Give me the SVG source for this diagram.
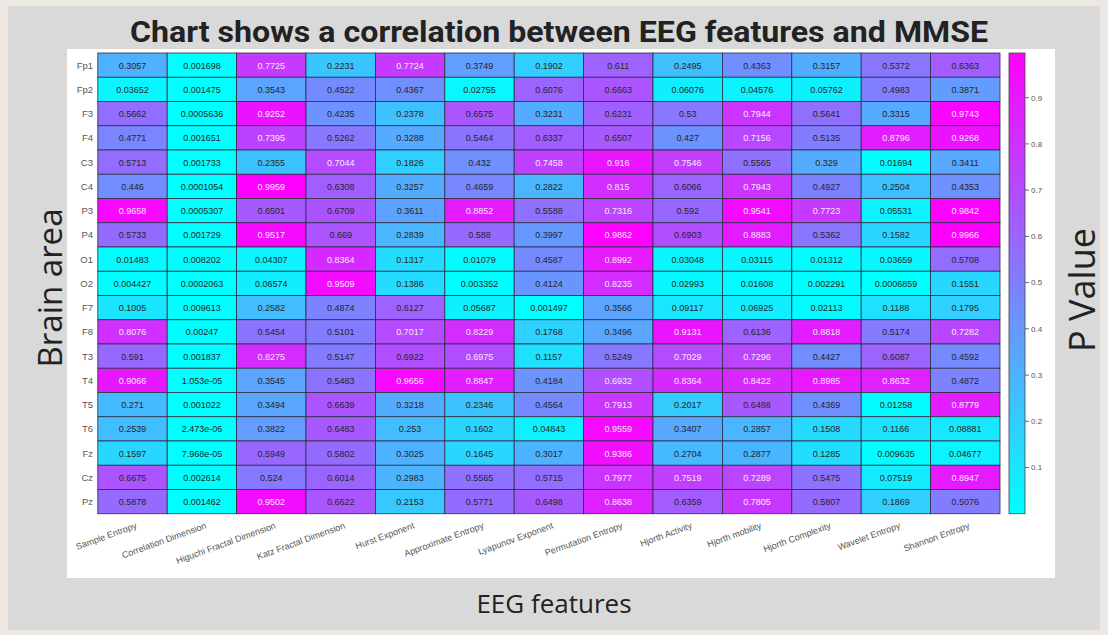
<svg xmlns="http://www.w3.org/2000/svg" width="1108" height="635" viewBox="0 0 1108 635">
<defs>
<linearGradient id="cool" x1="0" y1="1" x2="0" y2="0">
<stop offset="0" stop-color="#00ffff"/>
<stop offset="1" stop-color="#ff00ff"/>
</linearGradient>
</defs>
<style>
.cell rect{stroke:#2e2e44;stroke-width:.8}
.cell text{font-family:"Liberation Sans",Arial,sans-serif;font-size:9px;text-anchor:middle}
.d{fill:#262626}
.w{fill:#fbe6fb}
.rl{font-family:"Liberation Sans",Arial,sans-serif;font-size:9.5px;fill:#555;text-anchor:end}
.xl{font-family:"Liberation Sans",Arial,sans-serif;font-size:9px;fill:#555;text-anchor:end}
.tk{font-family:"Liberation Sans",Arial,sans-serif;font-size:8px;fill:#555}
.ax{font-family:"Open Sans","Noto Sans",sans-serif;fill:#222;text-anchor:middle}
</style>
<rect width="1108" height="635" fill="#eee8e2"/>
<rect x="8" y="6" width="1092" height="624" fill="#d9d9da"/>
<rect x="67" y="49" width="988" height="529" fill="#ffffff"/>
<text x="559" y="42" font-family="Roboto,'Liberation Sans',sans-serif" font-weight="bold" font-size="30" fill="#222" text-anchor="middle" textLength="858" lengthAdjust="spacingAndGlyphs">Chart shows a correlation between EEG features and MMSE</text>

<g id="row-labels">
<text class="rl" x="93" y="68.5">Fp1</text>
<text class="rl" x="93" y="92.75">Fp2</text>
<text class="rl" x="93" y="117">F3</text>
<text class="rl" x="93" y="141.25">F4</text>
<text class="rl" x="93" y="165.5">C3</text>
<text class="rl" x="93" y="189.75">C4</text>
<text class="rl" x="93" y="214">P3</text>
<text class="rl" x="93" y="238.25">P4</text>
<text class="rl" x="93" y="262.5">O1</text>
<text class="rl" x="93" y="286.75">O2</text>
<text class="rl" x="93" y="311">F7</text>
<text class="rl" x="93" y="335.25">F8</text>
<text class="rl" x="93" y="359.5">T3</text>
<text class="rl" x="93" y="383.75">T4</text>
<text class="rl" x="93" y="408">T5</text>
<text class="rl" x="93" y="432.25">T6</text>
<text class="rl" x="93" y="456.5">Fz</text>
<text class="rl" x="93" y="480.75">Cz</text>
<text class="rl" x="93" y="505">Pz</text>
</g>

<g id="cells" class="cell">
<g id="row-Fp1" transform="translate(0,53)">
<rect x="97.8" width="69.4" height="24.25" fill="rgb(78,177,255)"/><rect x="167.2" width="69.4" height="24.25" fill="rgb(0,255,255)"/><rect x="236.6" width="69.4" height="24.25" fill="rgb(198,57,255)"/><rect x="306" width="69.4" height="24.25" fill="rgb(57,198,255)"/><rect x="375.4" width="69.4" height="24.25" fill="rgb(198,57,255)"/><rect x="444.8" width="69.4" height="24.25" fill="rgb(96,159,255)"/><rect x="514.2" width="69.4" height="24.25" fill="rgb(49,206,255)"/><rect x="583.6" width="69.4" height="24.25" fill="rgb(156,99,255)"/><rect x="653" width="69.4" height="24.25" fill="rgb(64,191,255)"/><rect x="722.4" width="69.4" height="24.25" fill="rgb(112,143,255)"/><rect x="791.8" width="69.4" height="24.25" fill="rgb(81,174,255)"/><rect x="861.2" width="69.4" height="24.25" fill="rgb(137,118,255)"/><rect x="930.6" width="69.4" height="24.25" fill="rgb(163,92,255)"/>
<text x="132.5" y="15.5" class="d">0.3057</text><text x="201.9" y="15.5" class="d">0.001698</text><text x="271.3" y="15.5" class="w">0.7725</text><text x="340.7" y="15.5" class="d">0.2231</text><text x="410.1" y="15.5" class="w">0.7724</text><text x="479.5" y="15.5" class="d">0.3749</text><text x="548.9" y="15.5" class="d">0.1902</text><text x="618.3" y="15.5" class="d">0.611</text><text x="687.7" y="15.5" class="d">0.2495</text><text x="757.1" y="15.5" class="d">0.4363</text><text x="826.5" y="15.5" class="d">0.3157</text><text x="895.9" y="15.5" class="d">0.5372</text><text x="965.3" y="15.5" class="d">0.6363</text>
</g>
<g id="row-Fp2" transform="translate(0,77.25)">
<rect x="97.8" width="69.4" height="24.25" fill="rgb(9,246,255)"/><rect x="167.2" width="69.4" height="24.25" fill="rgb(0,255,255)"/><rect x="236.6" width="69.4" height="24.25" fill="rgb(91,164,255)"/><rect x="306" width="69.4" height="24.25" fill="rgb(116,139,255)"/><rect x="375.4" width="69.4" height="24.25" fill="rgb(112,143,255)"/><rect x="444.8" width="69.4" height="24.25" fill="rgb(7,248,255)"/><rect x="514.2" width="69.4" height="24.25" fill="rgb(155,100,255)"/><rect x="583.6" width="69.4" height="24.25" fill="rgb(170,85,255)"/><rect x="653" width="69.4" height="24.25" fill="rgb(16,239,255)"/><rect x="722.4" width="69.4" height="24.25" fill="rgb(12,243,255)"/><rect x="791.8" width="69.4" height="24.25" fill="rgb(15,240,255)"/><rect x="861.2" width="69.4" height="24.25" fill="rgb(128,127,255)"/><rect x="930.6" width="69.4" height="24.25" fill="rgb(99,156,255)"/>
<text x="132.5" y="15.5" class="d">0.03652</text><text x="201.9" y="15.5" class="d">0.001475</text><text x="271.3" y="15.5" class="d">0.3543</text><text x="340.7" y="15.5" class="d">0.4522</text><text x="410.1" y="15.5" class="d">0.4367</text><text x="479.5" y="15.5" class="d">0.02755</text><text x="548.9" y="15.5" class="d">0.6076</text><text x="618.3" y="15.5" class="d">0.6663</text><text x="687.7" y="15.5" class="d">0.06076</text><text x="757.1" y="15.5" class="d">0.04576</text><text x="826.5" y="15.5" class="d">0.05762</text><text x="895.9" y="15.5" class="d">0.4983</text><text x="965.3" y="15.5" class="d">0.3871</text>
</g>
<g id="row-F3" transform="translate(0,101.5)">
<rect x="97.8" width="69.4" height="24.25" fill="rgb(145,110,255)"/><rect x="167.2" width="69.4" height="24.25" fill="rgb(0,255,255)"/><rect x="236.6" width="69.4" height="24.25" fill="rgb(237,18,255)"/><rect x="306" width="69.4" height="24.25" fill="rgb(108,147,255)"/><rect x="375.4" width="69.4" height="24.25" fill="rgb(61,194,255)"/><rect x="444.8" width="69.4" height="24.25" fill="rgb(168,87,255)"/><rect x="514.2" width="69.4" height="24.25" fill="rgb(83,172,255)"/><rect x="583.6" width="69.4" height="24.25" fill="rgb(159,96,255)"/><rect x="653" width="69.4" height="24.25" fill="rgb(136,119,255)"/><rect x="722.4" width="69.4" height="24.25" fill="rgb(203,52,255)"/><rect x="791.8" width="69.4" height="24.25" fill="rgb(144,111,255)"/><rect x="861.2" width="69.4" height="24.25" fill="rgb(85,170,255)"/><rect x="930.6" width="69.4" height="24.25" fill="rgb(249,6,255)"/>
<text x="132.5" y="15.5" class="d">0.5662</text><text x="201.9" y="15.5" class="d">0.0005636</text><text x="271.3" y="15.5" class="w">0.9252</text><text x="340.7" y="15.5" class="d">0.4235</text><text x="410.1" y="15.5" class="d">0.2378</text><text x="479.5" y="15.5" class="d">0.6575</text><text x="548.9" y="15.5" class="d">0.3231</text><text x="618.3" y="15.5" class="d">0.6231</text><text x="687.7" y="15.5" class="d">0.53</text><text x="757.1" y="15.5" class="w">0.7944</text><text x="826.5" y="15.5" class="d">0.5641</text><text x="895.9" y="15.5" class="d">0.3315</text><text x="965.3" y="15.5" class="w">0.9743</text>
</g>
<g id="row-F4" transform="translate(0,125.75)">
<rect x="97.8" width="69.4" height="24.25" fill="rgb(122,133,255)"/><rect x="167.2" width="69.4" height="24.25" fill="rgb(0,255,255)"/><rect x="236.6" width="69.4" height="24.25" fill="rgb(189,66,255)"/><rect x="306" width="69.4" height="24.25" fill="rgb(135,120,255)"/><rect x="375.4" width="69.4" height="24.25" fill="rgb(84,171,255)"/><rect x="444.8" width="69.4" height="24.25" fill="rgb(140,115,255)"/><rect x="514.2" width="69.4" height="24.25" fill="rgb(162,93,255)"/><rect x="583.6" width="69.4" height="24.25" fill="rgb(166,89,255)"/><rect x="653" width="69.4" height="24.25" fill="rgb(109,146,255)"/><rect x="722.4" width="69.4" height="24.25" fill="rgb(183,72,255)"/><rect x="791.8" width="69.4" height="24.25" fill="rgb(131,124,255)"/><rect x="861.2" width="69.4" height="24.25" fill="rgb(225,30,255)"/><rect x="930.6" width="69.4" height="24.25" fill="rgb(237,18,255)"/>
<text x="132.5" y="15.5" class="d">0.4771</text><text x="201.9" y="15.5" class="d">0.001651</text><text x="271.3" y="15.5" class="w">0.7395</text><text x="340.7" y="15.5" class="d">0.5262</text><text x="410.1" y="15.5" class="d">0.3288</text><text x="479.5" y="15.5" class="d">0.5464</text><text x="548.9" y="15.5" class="d">0.6337</text><text x="618.3" y="15.5" class="d">0.6507</text><text x="687.7" y="15.5" class="d">0.427</text><text x="757.1" y="15.5" class="w">0.7156</text><text x="826.5" y="15.5" class="d">0.5135</text><text x="895.9" y="15.5" class="w">0.8796</text><text x="965.3" y="15.5" class="w">0.9268</text>
</g>
<g id="row-C3" transform="translate(0,150)">
<rect x="97.8" width="69.4" height="24.25" fill="rgb(146,109,255)"/><rect x="167.2" width="69.4" height="24.25" fill="rgb(0,255,255)"/><rect x="236.6" width="69.4" height="24.25" fill="rgb(60,195,255)"/><rect x="306" width="69.4" height="24.25" fill="rgb(180,75,255)"/><rect x="375.4" width="69.4" height="24.25" fill="rgb(47,208,255)"/><rect x="444.8" width="69.4" height="24.25" fill="rgb(111,144,255)"/><rect x="514.2" width="69.4" height="24.25" fill="rgb(191,64,255)"/><rect x="583.6" width="69.4" height="24.25" fill="rgb(234,21,255)"/><rect x="653" width="69.4" height="24.25" fill="rgb(193,62,255)"/><rect x="722.4" width="69.4" height="24.25" fill="rgb(142,113,255)"/><rect x="791.8" width="69.4" height="24.25" fill="rgb(84,171,255)"/><rect x="861.2" width="69.4" height="24.25" fill="rgb(4,251,255)"/><rect x="930.6" width="69.4" height="24.25" fill="rgb(87,168,255)"/>
<text x="132.5" y="15.5" class="d">0.5713</text><text x="201.9" y="15.5" class="d">0.001733</text><text x="271.3" y="15.5" class="d">0.2355</text><text x="340.7" y="15.5" class="w">0.7044</text><text x="410.1" y="15.5" class="d">0.1826</text><text x="479.5" y="15.5" class="d">0.432</text><text x="548.9" y="15.5" class="w">0.7458</text><text x="618.3" y="15.5" class="w">0.916</text><text x="687.7" y="15.5" class="w">0.7546</text><text x="757.1" y="15.5" class="d">0.5565</text><text x="826.5" y="15.5" class="d">0.329</text><text x="895.9" y="15.5" class="d">0.01694</text><text x="965.3" y="15.5" class="d">0.3411</text>
</g>
<g id="row-C4" transform="translate(0,174.25)">
<rect x="97.8" width="69.4" height="24.25" fill="rgb(114,141,255)"/><rect x="167.2" width="69.4" height="24.25" fill="rgb(0,255,255)"/><rect x="236.6" width="69.4" height="24.25" fill="rgb(255,0,255)"/><rect x="306" width="69.4" height="24.25" fill="rgb(161,94,255)"/><rect x="375.4" width="69.4" height="24.25" fill="rgb(83,172,255)"/><rect x="444.8" width="69.4" height="24.25" fill="rgb(119,136,255)"/><rect x="514.2" width="69.4" height="24.25" fill="rgb(72,183,255)"/><rect x="583.6" width="69.4" height="24.25" fill="rgb(209,46,255)"/><rect x="653" width="69.4" height="24.25" fill="rgb(155,100,255)"/><rect x="722.4" width="69.4" height="24.25" fill="rgb(203,52,255)"/><rect x="791.8" width="69.4" height="24.25" fill="rgb(126,129,255)"/><rect x="861.2" width="69.4" height="24.25" fill="rgb(64,191,255)"/><rect x="930.6" width="69.4" height="24.25" fill="rgb(111,144,255)"/>
<text x="132.5" y="15.5" class="d">0.446</text><text x="201.9" y="15.5" class="d">0.0001054</text><text x="271.3" y="15.5" class="w">0.9959</text><text x="340.7" y="15.5" class="d">0.6308</text><text x="410.1" y="15.5" class="d">0.3257</text><text x="479.5" y="15.5" class="d">0.4659</text><text x="548.9" y="15.5" class="d">0.2822</text><text x="618.3" y="15.5" class="w">0.815</text><text x="687.7" y="15.5" class="d">0.6066</text><text x="757.1" y="15.5" class="w">0.7943</text><text x="826.5" y="15.5" class="d">0.4927</text><text x="895.9" y="15.5" class="d">0.2504</text><text x="965.3" y="15.5" class="d">0.4353</text>
</g>
<g id="row-P3" transform="translate(0,198.5)">
<rect x="97.8" width="69.4" height="24.25" fill="rgb(247,8,255)"/><rect x="167.2" width="69.4" height="24.25" fill="rgb(0,255,255)"/><rect x="236.6" width="69.4" height="24.25" fill="rgb(166,89,255)"/><rect x="306" width="69.4" height="24.25" fill="rgb(172,83,255)"/><rect x="375.4" width="69.4" height="24.25" fill="rgb(92,163,255)"/><rect x="444.8" width="69.4" height="24.25" fill="rgb(227,28,255)"/><rect x="514.2" width="69.4" height="24.25" fill="rgb(143,112,255)"/><rect x="583.6" width="69.4" height="24.25" fill="rgb(187,68,255)"/><rect x="653" width="69.4" height="24.25" fill="rgb(151,104,255)"/><rect x="722.4" width="69.4" height="24.25" fill="rgb(244,11,255)"/><rect x="791.8" width="69.4" height="24.25" fill="rgb(198,57,255)"/><rect x="861.2" width="69.4" height="24.25" fill="rgb(14,241,255)"/><rect x="930.6" width="69.4" height="24.25" fill="rgb(252,3,255)"/>
<text x="132.5" y="15.5" class="w">0.9658</text><text x="201.9" y="15.5" class="d">0.0005307</text><text x="271.3" y="15.5" class="d">0.6501</text><text x="340.7" y="15.5" class="d">0.6709</text><text x="410.1" y="15.5" class="d">0.3611</text><text x="479.5" y="15.5" class="w">0.8852</text><text x="548.9" y="15.5" class="d">0.5588</text><text x="618.3" y="15.5" class="w">0.7316</text><text x="687.7" y="15.5" class="d">0.592</text><text x="757.1" y="15.5" class="w">0.9541</text><text x="826.5" y="15.5" class="w">0.7723</text><text x="895.9" y="15.5" class="d">0.05531</text><text x="965.3" y="15.5" class="w">0.9842</text>
</g>
<g id="row-P4" transform="translate(0,222.75)">
<rect x="97.8" width="69.4" height="24.25" fill="rgb(147,108,255)"/><rect x="167.2" width="69.4" height="24.25" fill="rgb(0,255,255)"/><rect x="236.6" width="69.4" height="24.25" fill="rgb(244,11,255)"/><rect x="306" width="69.4" height="24.25" fill="rgb(171,84,255)"/><rect x="375.4" width="69.4" height="24.25" fill="rgb(73,182,255)"/><rect x="444.8" width="69.4" height="24.25" fill="rgb(150,105,255)"/><rect x="514.2" width="69.4" height="24.25" fill="rgb(102,153,255)"/><rect x="583.6" width="69.4" height="24.25" fill="rgb(252,3,255)"/><rect x="653" width="69.4" height="24.25" fill="rgb(177,78,255)"/><rect x="722.4" width="69.4" height="24.25" fill="rgb(227,28,255)"/><rect x="791.8" width="69.4" height="24.25" fill="rgb(137,118,255)"/><rect x="861.2" width="69.4" height="24.25" fill="rgb(40,215,255)"/><rect x="930.6" width="69.4" height="24.25" fill="rgb(255,0,255)"/>
<text x="132.5" y="15.5" class="d">0.5733</text><text x="201.9" y="15.5" class="d">0.001729</text><text x="271.3" y="15.5" class="w">0.9517</text><text x="340.7" y="15.5" class="d">0.669</text><text x="410.1" y="15.5" class="d">0.2839</text><text x="479.5" y="15.5" class="d">0.588</text><text x="548.9" y="15.5" class="d">0.3997</text><text x="618.3" y="15.5" class="w">0.9862</text><text x="687.7" y="15.5" class="d">0.6903</text><text x="757.1" y="15.5" class="w">0.8883</text><text x="826.5" y="15.5" class="d">0.5362</text><text x="895.9" y="15.5" class="d">0.1582</text><text x="965.3" y="15.5" class="w">0.9966</text>
</g>
<g id="row-O1" transform="translate(0,247)">
<rect x="97.8" width="69.4" height="24.25" fill="rgb(4,251,255)"/><rect x="167.2" width="69.4" height="24.25" fill="rgb(2,253,255)"/><rect x="236.6" width="69.4" height="24.25" fill="rgb(11,244,255)"/><rect x="306" width="69.4" height="24.25" fill="rgb(214,41,255)"/><rect x="375.4" width="69.4" height="24.25" fill="rgb(34,221,255)"/><rect x="444.8" width="69.4" height="24.25" fill="rgb(3,252,255)"/><rect x="514.2" width="69.4" height="24.25" fill="rgb(117,138,255)"/><rect x="583.6" width="69.4" height="24.25" fill="rgb(230,25,255)"/><rect x="653" width="69.4" height="24.25" fill="rgb(8,247,255)"/><rect x="722.4" width="69.4" height="24.25" fill="rgb(8,247,255)"/><rect x="791.8" width="69.4" height="24.25" fill="rgb(3,252,255)"/><rect x="861.2" width="69.4" height="24.25" fill="rgb(9,246,255)"/><rect x="930.6" width="69.4" height="24.25" fill="rgb(146,109,255)"/>
<text x="132.5" y="15.5" class="d">0.01483</text><text x="201.9" y="15.5" class="d">0.008202</text><text x="271.3" y="15.5" class="d">0.04307</text><text x="340.7" y="15.5" class="w">0.8364</text><text x="410.1" y="15.5" class="d">0.1317</text><text x="479.5" y="15.5" class="d">0.01079</text><text x="548.9" y="15.5" class="d">0.4587</text><text x="618.3" y="15.5" class="w">0.8992</text><text x="687.7" y="15.5" class="d">0.03048</text><text x="757.1" y="15.5" class="d">0.03115</text><text x="826.5" y="15.5" class="d">0.01312</text><text x="895.9" y="15.5" class="d">0.03659</text><text x="965.3" y="15.5" class="d">0.5708</text>
</g>
<g id="row-O2" transform="translate(0,271.25)">
<rect x="97.8" width="69.4" height="24.25" fill="rgb(1,254,255)"/><rect x="167.2" width="69.4" height="24.25" fill="rgb(0,255,255)"/><rect x="236.6" width="69.4" height="24.25" fill="rgb(17,238,255)"/><rect x="306" width="69.4" height="24.25" fill="rgb(243,12,255)"/><rect x="375.4" width="69.4" height="24.25" fill="rgb(35,220,255)"/><rect x="444.8" width="69.4" height="24.25" fill="rgb(1,254,255)"/><rect x="514.2" width="69.4" height="24.25" fill="rgb(106,149,255)"/><rect x="583.6" width="69.4" height="24.25" fill="rgb(211,44,255)"/><rect x="653" width="69.4" height="24.25" fill="rgb(8,247,255)"/><rect x="722.4" width="69.4" height="24.25" fill="rgb(4,251,255)"/><rect x="791.8" width="69.4" height="24.25" fill="rgb(1,254,255)"/><rect x="861.2" width="69.4" height="24.25" fill="rgb(0,255,255)"/><rect x="930.6" width="69.4" height="24.25" fill="rgb(40,215,255)"/>
<text x="132.5" y="15.5" class="d">0.004427</text><text x="201.9" y="15.5" class="d">0.0002063</text><text x="271.3" y="15.5" class="d">0.06574</text><text x="340.7" y="15.5" class="w">0.9509</text><text x="410.1" y="15.5" class="d">0.1386</text><text x="479.5" y="15.5" class="d">0.003352</text><text x="548.9" y="15.5" class="d">0.4124</text><text x="618.3" y="15.5" class="w">0.8235</text><text x="687.7" y="15.5" class="d">0.02993</text><text x="757.1" y="15.5" class="d">0.01608</text><text x="826.5" y="15.5" class="d">0.002291</text><text x="895.9" y="15.5" class="d">0.0006859</text><text x="965.3" y="15.5" class="d">0.1551</text>
</g>
<g id="row-F7" transform="translate(0,295.5)">
<rect x="97.8" width="69.4" height="24.25" fill="rgb(26,229,255)"/><rect x="167.2" width="69.4" height="24.25" fill="rgb(2,253,255)"/><rect x="236.6" width="69.4" height="24.25" fill="rgb(66,189,255)"/><rect x="306" width="69.4" height="24.25" fill="rgb(125,130,255)"/><rect x="375.4" width="69.4" height="24.25" fill="rgb(157,98,255)"/><rect x="444.8" width="69.4" height="24.25" fill="rgb(15,240,255)"/><rect x="514.2" width="69.4" height="24.25" fill="rgb(0,255,255)"/><rect x="583.6" width="69.4" height="24.25" fill="rgb(91,164,255)"/><rect x="653" width="69.4" height="24.25" fill="rgb(23,232,255)"/><rect x="722.4" width="69.4" height="24.25" fill="rgb(18,237,255)"/><rect x="791.8" width="69.4" height="24.25" fill="rgb(5,250,255)"/><rect x="861.2" width="69.4" height="24.25" fill="rgb(30,225,255)"/><rect x="930.6" width="69.4" height="24.25" fill="rgb(46,209,255)"/>
<text x="132.5" y="15.5" class="d">0.1005</text><text x="201.9" y="15.5" class="d">0.009613</text><text x="271.3" y="15.5" class="d">0.2582</text><text x="340.7" y="15.5" class="d">0.4874</text><text x="410.1" y="15.5" class="d">0.6127</text><text x="479.5" y="15.5" class="d">0.05687</text><text x="548.9" y="15.5" class="d">0.001497</text><text x="618.3" y="15.5" class="d">0.3566</text><text x="687.7" y="15.5" class="d">0.09117</text><text x="757.1" y="15.5" class="d">0.06925</text><text x="826.5" y="15.5" class="d">0.02113</text><text x="895.9" y="15.5" class="d">0.1188</text><text x="965.3" y="15.5" class="d">0.1795</text>
</g>
<g id="row-F8" transform="translate(0,319.75)">
<rect x="97.8" width="69.4" height="24.25" fill="rgb(207,48,255)"/><rect x="167.2" width="69.4" height="24.25" fill="rgb(1,254,255)"/><rect x="236.6" width="69.4" height="24.25" fill="rgb(140,115,255)"/><rect x="306" width="69.4" height="24.25" fill="rgb(131,124,255)"/><rect x="375.4" width="69.4" height="24.25" fill="rgb(180,75,255)"/><rect x="444.8" width="69.4" height="24.25" fill="rgb(211,44,255)"/><rect x="514.2" width="69.4" height="24.25" fill="rgb(45,210,255)"/><rect x="583.6" width="69.4" height="24.25" fill="rgb(89,166,255)"/><rect x="653" width="69.4" height="24.25" fill="rgb(234,21,255)"/><rect x="722.4" width="69.4" height="24.25" fill="rgb(157,98,255)"/><rect x="791.8" width="69.4" height="24.25" fill="rgb(226,29,255)"/><rect x="861.2" width="69.4" height="24.25" fill="rgb(132,123,255)"/><rect x="930.6" width="69.4" height="24.25" fill="rgb(186,69,255)"/>
<text x="132.5" y="15.5" class="w">0.8076</text><text x="201.9" y="15.5" class="d">0.00247</text><text x="271.3" y="15.5" class="d">0.5454</text><text x="340.7" y="15.5" class="d">0.5101</text><text x="410.1" y="15.5" class="w">0.7017</text><text x="479.5" y="15.5" class="w">0.8229</text><text x="548.9" y="15.5" class="d">0.1768</text><text x="618.3" y="15.5" class="d">0.3496</text><text x="687.7" y="15.5" class="w">0.9131</text><text x="757.1" y="15.5" class="d">0.6136</text><text x="826.5" y="15.5" class="w">0.8818</text><text x="895.9" y="15.5" class="d">0.5174</text><text x="965.3" y="15.5" class="w">0.7282</text>
</g>
<g id="row-T3" transform="translate(0,344)">
<rect x="97.8" width="69.4" height="24.25" fill="rgb(151,104,255)"/><rect x="167.2" width="69.4" height="24.25" fill="rgb(0,255,255)"/><rect x="236.6" width="69.4" height="24.25" fill="rgb(212,43,255)"/><rect x="306" width="69.4" height="24.25" fill="rgb(132,123,255)"/><rect x="375.4" width="69.4" height="24.25" fill="rgb(177,78,255)"/><rect x="444.8" width="69.4" height="24.25" fill="rgb(178,77,255)"/><rect x="514.2" width="69.4" height="24.25" fill="rgb(30,225,255)"/><rect x="583.6" width="69.4" height="24.25" fill="rgb(134,121,255)"/><rect x="653" width="69.4" height="24.25" fill="rgb(180,75,255)"/><rect x="722.4" width="69.4" height="24.25" fill="rgb(187,68,255)"/><rect x="791.8" width="69.4" height="24.25" fill="rgb(113,142,255)"/><rect x="861.2" width="69.4" height="24.25" fill="rgb(156,99,255)"/><rect x="930.6" width="69.4" height="24.25" fill="rgb(117,138,255)"/>
<text x="132.5" y="15.5" class="d">0.591</text><text x="201.9" y="15.5" class="d">0.001837</text><text x="271.3" y="15.5" class="w">0.8275</text><text x="340.7" y="15.5" class="d">0.5147</text><text x="410.1" y="15.5" class="d">0.6922</text><text x="479.5" y="15.5" class="w">0.6975</text><text x="548.9" y="15.5" class="d">0.1157</text><text x="618.3" y="15.5" class="d">0.5249</text><text x="687.7" y="15.5" class="w">0.7029</text><text x="757.1" y="15.5" class="w">0.7296</text><text x="826.5" y="15.5" class="d">0.4427</text><text x="895.9" y="15.5" class="d">0.6087</text><text x="965.3" y="15.5" class="d">0.4592</text>
</g>
<g id="row-T4" transform="translate(0,368.25)">
<rect x="97.8" width="69.4" height="24.25" fill="rgb(232,23,255)"/><rect x="167.2" width="69.4" height="24.25" fill="rgb(0,255,255)"/><rect x="236.6" width="69.4" height="24.25" fill="rgb(91,164,255)"/><rect x="306" width="69.4" height="24.25" fill="rgb(140,115,255)"/><rect x="375.4" width="69.4" height="24.25" fill="rgb(247,8,255)"/><rect x="444.8" width="69.4" height="24.25" fill="rgb(226,29,255)"/><rect x="514.2" width="69.4" height="24.25" fill="rgb(107,148,255)"/><rect x="583.6" width="69.4" height="24.25" fill="rgb(177,78,255)"/><rect x="653" width="69.4" height="24.25" fill="rgb(214,41,255)"/><rect x="722.4" width="69.4" height="24.25" fill="rgb(215,40,255)"/><rect x="791.8" width="69.4" height="24.25" fill="rgb(230,25,255)"/><rect x="861.2" width="69.4" height="24.25" fill="rgb(221,34,255)"/><rect x="930.6" width="69.4" height="24.25" fill="rgb(125,130,255)"/>
<text x="132.5" y="15.5" class="w">0.9066</text><text x="201.9" y="15.5" class="d">1.053e-05</text><text x="271.3" y="15.5" class="d">0.3545</text><text x="340.7" y="15.5" class="d">0.5483</text><text x="410.1" y="15.5" class="w">0.9656</text><text x="479.5" y="15.5" class="w">0.8847</text><text x="548.9" y="15.5" class="d">0.4184</text><text x="618.3" y="15.5" class="w">0.6932</text><text x="687.7" y="15.5" class="w">0.8364</text><text x="757.1" y="15.5" class="w">0.8422</text><text x="826.5" y="15.5" class="w">0.8985</text><text x="895.9" y="15.5" class="w">0.8632</text><text x="965.3" y="15.5" class="d">0.4872</text>
</g>
<g id="row-T5" transform="translate(0,392.5)">
<rect x="97.8" width="69.4" height="24.25" fill="rgb(69,186,255)"/><rect x="167.2" width="69.4" height="24.25" fill="rgb(0,255,255)"/><rect x="236.6" width="69.4" height="24.25" fill="rgb(89,166,255)"/><rect x="306" width="69.4" height="24.25" fill="rgb(170,85,255)"/><rect x="375.4" width="69.4" height="24.25" fill="rgb(82,173,255)"/><rect x="444.8" width="69.4" height="24.25" fill="rgb(60,195,255)"/><rect x="514.2" width="69.4" height="24.25" fill="rgb(117,138,255)"/><rect x="583.6" width="69.4" height="24.25" fill="rgb(202,53,255)"/><rect x="653" width="69.4" height="24.25" fill="rgb(52,203,255)"/><rect x="722.4" width="69.4" height="24.25" fill="rgb(166,89,255)"/><rect x="791.8" width="69.4" height="24.25" fill="rgb(112,143,255)"/><rect x="861.2" width="69.4" height="24.25" fill="rgb(3,252,255)"/><rect x="930.6" width="69.4" height="24.25" fill="rgb(225,30,255)"/>
<text x="132.5" y="15.5" class="d">0.271</text><text x="201.9" y="15.5" class="d">0.001022</text><text x="271.3" y="15.5" class="d">0.3494</text><text x="340.7" y="15.5" class="d">0.6639</text><text x="410.1" y="15.5" class="d">0.3218</text><text x="479.5" y="15.5" class="d">0.2346</text><text x="548.9" y="15.5" class="d">0.4564</text><text x="618.3" y="15.5" class="w">0.7913</text><text x="687.7" y="15.5" class="d">0.2017</text><text x="757.1" y="15.5" class="d">0.6488</text><text x="826.5" y="15.5" class="d">0.4369</text><text x="895.9" y="15.5" class="d">0.01258</text><text x="965.3" y="15.5" class="w">0.8779</text>
</g>
<g id="row-T6" transform="translate(0,416.75)">
<rect x="97.8" width="69.4" height="24.25" fill="rgb(65,190,255)"/><rect x="167.2" width="69.4" height="24.25" fill="rgb(0,255,255)"/><rect x="236.6" width="69.4" height="24.25" fill="rgb(98,157,255)"/><rect x="306" width="69.4" height="24.25" fill="rgb(166,89,255)"/><rect x="375.4" width="69.4" height="24.25" fill="rgb(65,190,255)"/><rect x="444.8" width="69.4" height="24.25" fill="rgb(41,214,255)"/><rect x="514.2" width="69.4" height="24.25" fill="rgb(12,243,255)"/><rect x="583.6" width="69.4" height="24.25" fill="rgb(245,10,255)"/><rect x="653" width="69.4" height="24.25" fill="rgb(87,168,255)"/><rect x="722.4" width="69.4" height="24.25" fill="rgb(73,182,255)"/><rect x="791.8" width="69.4" height="24.25" fill="rgb(39,216,255)"/><rect x="861.2" width="69.4" height="24.25" fill="rgb(30,225,255)"/><rect x="930.6" width="69.4" height="24.25" fill="rgb(23,232,255)"/>
<text x="132.5" y="15.5" class="d">0.2539</text><text x="201.9" y="15.5" class="d">2.473e-06</text><text x="271.3" y="15.5" class="d">0.3822</text><text x="340.7" y="15.5" class="d">0.6483</text><text x="410.1" y="15.5" class="d">0.253</text><text x="479.5" y="15.5" class="d">0.1602</text><text x="548.9" y="15.5" class="d">0.04843</text><text x="618.3" y="15.5" class="w">0.9559</text><text x="687.7" y="15.5" class="d">0.3407</text><text x="757.1" y="15.5" class="d">0.2857</text><text x="826.5" y="15.5" class="d">0.1508</text><text x="895.9" y="15.5" class="d">0.1166</text><text x="965.3" y="15.5" class="d">0.08881</text>
</g>
<g id="row-Fz" transform="translate(0,441)">
<rect x="97.8" width="69.4" height="24.25" fill="rgb(41,214,255)"/><rect x="167.2" width="69.4" height="24.25" fill="rgb(0,255,255)"/><rect x="236.6" width="69.4" height="24.25" fill="rgb(152,103,255)"/><rect x="306" width="69.4" height="24.25" fill="rgb(148,107,255)"/><rect x="375.4" width="69.4" height="24.25" fill="rgb(77,178,255)"/><rect x="444.8" width="69.4" height="24.25" fill="rgb(42,213,255)"/><rect x="514.2" width="69.4" height="24.25" fill="rgb(77,178,255)"/><rect x="583.6" width="69.4" height="24.25" fill="rgb(240,15,255)"/><rect x="653" width="69.4" height="24.25" fill="rgb(69,186,255)"/><rect x="722.4" width="69.4" height="24.25" fill="rgb(74,181,255)"/><rect x="791.8" width="69.4" height="24.25" fill="rgb(33,222,255)"/><rect x="861.2" width="69.4" height="24.25" fill="rgb(2,253,255)"/><rect x="930.6" width="69.4" height="24.25" fill="rgb(12,243,255)"/>
<text x="132.5" y="15.5" class="d">0.1597</text><text x="201.9" y="15.5" class="d">7.968e-05</text><text x="271.3" y="15.5" class="d">0.5949</text><text x="340.7" y="15.5" class="d">0.5802</text><text x="410.1" y="15.5" class="d">0.3025</text><text x="479.5" y="15.5" class="d">0.1645</text><text x="548.9" y="15.5" class="d">0.3017</text><text x="618.3" y="15.5" class="w">0.9386</text><text x="687.7" y="15.5" class="d">0.2704</text><text x="757.1" y="15.5" class="d">0.2877</text><text x="826.5" y="15.5" class="d">0.1285</text><text x="895.9" y="15.5" class="d">0.009635</text><text x="965.3" y="15.5" class="d">0.04677</text>
</g>
<g id="row-Cz" transform="translate(0,465.25)">
<rect x="97.8" width="69.4" height="24.25" fill="rgb(171,84,255)"/><rect x="167.2" width="69.4" height="24.25" fill="rgb(1,254,255)"/><rect x="236.6" width="69.4" height="24.25" fill="rgb(134,121,255)"/><rect x="306" width="69.4" height="24.25" fill="rgb(154,101,255)"/><rect x="375.4" width="69.4" height="24.25" fill="rgb(76,179,255)"/><rect x="444.8" width="69.4" height="24.25" fill="rgb(142,113,255)"/><rect x="514.2" width="69.4" height="24.25" fill="rgb(146,109,255)"/><rect x="583.6" width="69.4" height="24.25" fill="rgb(204,51,255)"/><rect x="653" width="69.4" height="24.25" fill="rgb(192,63,255)"/><rect x="722.4" width="69.4" height="24.25" fill="rgb(187,68,255)"/><rect x="791.8" width="69.4" height="24.25" fill="rgb(140,115,255)"/><rect x="861.2" width="69.4" height="24.25" fill="rgb(19,236,255)"/><rect x="930.6" width="69.4" height="24.25" fill="rgb(229,26,255)"/>
<text x="132.5" y="15.5" class="d">0.6675</text><text x="201.9" y="15.5" class="d">0.002614</text><text x="271.3" y="15.5" class="d">0.524</text><text x="340.7" y="15.5" class="d">0.6014</text><text x="410.1" y="15.5" class="d">0.2983</text><text x="479.5" y="15.5" class="d">0.5565</text><text x="548.9" y="15.5" class="d">0.5715</text><text x="618.3" y="15.5" class="w">0.7977</text><text x="687.7" y="15.5" class="w">0.7519</text><text x="757.1" y="15.5" class="w">0.7289</text><text x="826.5" y="15.5" class="d">0.5475</text><text x="895.9" y="15.5" class="d">0.07519</text><text x="965.3" y="15.5" class="w">0.8947</text>
</g>
<g id="row-Pz" transform="translate(0,489.5)">
<rect x="97.8" width="69.4" height="24.25" fill="rgb(150,105,255)"/><rect x="167.2" width="69.4" height="24.25" fill="rgb(0,255,255)"/><rect x="236.6" width="69.4" height="24.25" fill="rgb(243,12,255)"/><rect x="306" width="69.4" height="24.25" fill="rgb(169,86,255)"/><rect x="375.4" width="69.4" height="24.25" fill="rgb(55,200,255)"/><rect x="444.8" width="69.4" height="24.25" fill="rgb(148,107,255)"/><rect x="514.2" width="69.4" height="24.25" fill="rgb(166,89,255)"/><rect x="583.6" width="69.4" height="24.25" fill="rgb(221,34,255)"/><rect x="653" width="69.4" height="24.25" fill="rgb(163,92,255)"/><rect x="722.4" width="69.4" height="24.25" fill="rgb(200,55,255)"/><rect x="791.8" width="69.4" height="24.25" fill="rgb(149,106,255)"/><rect x="861.2" width="69.4" height="24.25" fill="rgb(48,207,255)"/><rect x="930.6" width="69.4" height="24.25" fill="rgb(130,125,255)"/>
<text x="132.5" y="15.5" class="d">0.5878</text><text x="201.9" y="15.5" class="d">0.001462</text><text x="271.3" y="15.5" class="w">0.9502</text><text x="340.7" y="15.5" class="d">0.6622</text><text x="410.1" y="15.5" class="d">0.2153</text><text x="479.5" y="15.5" class="d">0.5771</text><text x="548.9" y="15.5" class="d">0.6498</text><text x="618.3" y="15.5" class="w">0.8638</text><text x="687.7" y="15.5" class="d">0.6359</text><text x="757.1" y="15.5" class="w">0.7805</text><text x="826.5" y="15.5" class="d">0.5807</text><text x="895.9" y="15.5" class="d">0.1869</text><text x="965.3" y="15.5" class="d">0.5076</text>
</g>
</g>

<g id="x-labels">
<text class="xl" transform="translate(137.5,528) rotate(-20)">Sample Entropy</text>
<text class="xl" transform="translate(206.9,528) rotate(-20)">Correlation Dimension</text>
<text class="xl" transform="translate(276.3,528) rotate(-20)">Higuchi Fractal Dimension</text>
<text class="xl" transform="translate(345.7,528) rotate(-20)">Katz Fractal Dimension</text>
<text class="xl" transform="translate(415.1,528) rotate(-20)">Hurst Exponent</text>
<text class="xl" transform="translate(484.5,528) rotate(-20)">Approximate Entropy</text>
<text class="xl" transform="translate(553.9,528) rotate(-20)">Lyapunov Exponent</text>
<text class="xl" transform="translate(623.3,528) rotate(-20)">Permutation Entropy</text>
<text class="xl" transform="translate(692.7,528) rotate(-20)">Hjorth Activity</text>
<text class="xl" transform="translate(762.1,528) rotate(-20)">Hjorth mobility</text>
<text class="xl" transform="translate(831.5,528) rotate(-20)">Hjorth Complexity</text>
<text class="xl" transform="translate(900.9,528) rotate(-20)">Wavelet Entropy</text>
<text class="xl" transform="translate(970.3,528) rotate(-20)">Shannon Entropy</text>
</g>

<g id="colorbar">
<rect x="1009" y="53" width="16" height="460.75" fill="url(#cool)" stroke="#444" stroke-width="0.8"/>
<g stroke="#444" stroke-width="0.8">
<line x1="1025" y1="97.7" x2="1029" y2="97.7"/>
<line x1="1025" y1="143.9" x2="1029" y2="143.9"/>
<line x1="1025" y1="190.1" x2="1029" y2="190.1"/>
<line x1="1025" y1="236.4" x2="1029" y2="236.4"/>
<line x1="1025" y1="282.6" x2="1029" y2="282.6"/>
<line x1="1025" y1="328.8" x2="1029" y2="328.8"/>
<line x1="1025" y1="375.1" x2="1029" y2="375.1"/>
<line x1="1025" y1="421.3" x2="1029" y2="421.3"/>
<line x1="1025" y1="467.5" x2="1029" y2="467.5"/>
</g>
<text class="tk" x="1031" y="100.5">0.9</text>
<text class="tk" x="1031" y="146.7">0.8</text>
<text class="tk" x="1031" y="192.9">0.7</text>
<text class="tk" x="1031" y="239.2">0.6</text>
<text class="tk" x="1031" y="285.4">0.5</text>
<text class="tk" x="1031" y="331.6">0.4</text>
<text class="tk" x="1031" y="377.9">0.3</text>
<text class="tk" x="1031" y="424.1">0.2</text>
<text class="tk" x="1031" y="470.3">0.1</text>
</g>

<text class="ax" font-size="33" transform="translate(62,288) rotate(-90)">Brain area</text>
<text class="ax" font-size="36" transform="translate(1095,290) rotate(-90)">P Value</text>
<text class="ax" font-size="26" x="554" y="613">EEG features</text>
</svg>
